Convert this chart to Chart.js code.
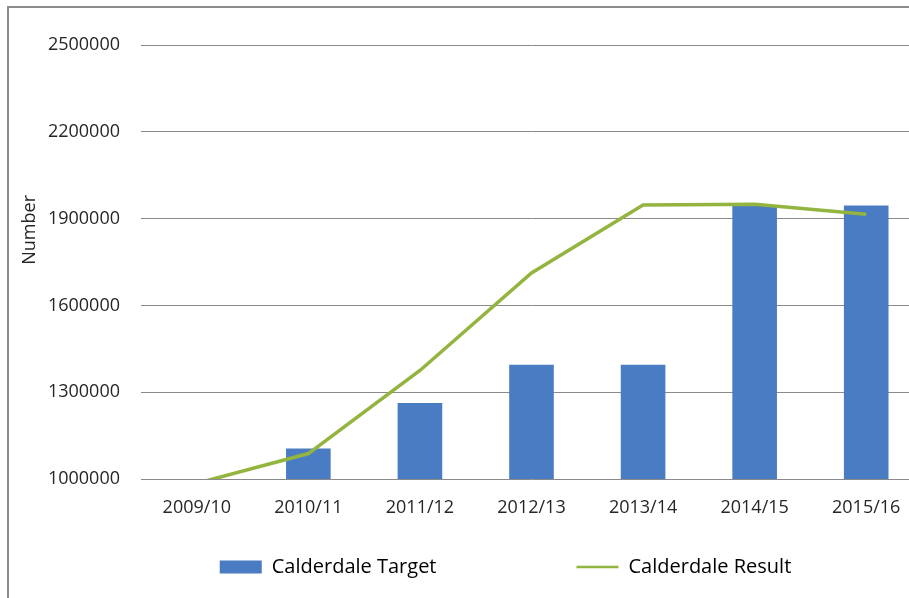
<!DOCTYPE html>
<html>
<head>
<meta charset="utf-8">
<script src="https://cdn.jsdelivr.net/npm/chart.js@4"></script>
<style>
  html, body { margin: 0; padding: 0; overflow: hidden; background: #fff; }
  #moldura { position: absolute; left: 7px; top: 6px; width: 1000px; height: 700px;
             border-left: 2px solid #8c8c8c; border-top: 2px solid #8c8c8c; }
  #caixa { position: absolute; left: 9px; top: 9px; width: 981px; height: 578px; }
</style>
</head>
<body>
<div id="moldura"></div>
<div id="caixa"><canvas id="grafico1"></canvas></div>
<script>
// dados
const anos = ["2009/10", "2010/11", "2011/12", "2012/13", "2013/14", "2014/15", "2015/16"];
const valoresMeta = [null, 1105000, 1263000, 1395000, 1395000, 1944000, 1945000];
const valoresResultado = [985000, 1088000, 1375000, 1712000, 1947000, 1950000, 1915000];
const rotulos = ["Calderdale Target", "Calderdale Result"];
const tituloY = "Number";
const eixoMin = 1000000;
const eixoMax = 2500000;
const passo = 300000;

const corMeta = "#4a7cc4";
const corResultado = "#93b43f";
const corTexto = "#262626";
const fonte = "'Open Sans', sans-serif";

// desenha o título do eixo Y um pouco acima do centro, como no original
const tituloEixo = {
  id: "tituloEixo",
  afterDraw(chart) {
    const { ctx, chartArea, scales } = chart;
    ctx.save();
    ctx.font = "18px " + fonte;
    ctx.fillStyle = corTexto;
    ctx.textAlign = "center";
    ctx.textBaseline = "middle";
    ctx.translate(scales.y.left + 9, chartArea.top + (chartArea.bottom - chartArea.top) * 0.426);
    ctx.rotate(-Math.PI / 2);
    ctx.fillText(tituloY, 0, 0);
    ctx.restore();
  },
};

const ctx = document.getElementById("grafico1").getContext("2d");

new Chart(ctx, {
  type: "bar",
  data: {
    labels: anos,
    datasets: [
      {
        label: rotulos[0],
        data: valoresMeta,
        backgroundColor: corMeta,
        barPercentage: 0.5,
        categoryPercentage: 0.8,
        yAxisID: "y",
        order: 1,
      },
      {
        type: "line",
        label: rotulos[1],
        data: valoresResultado,
        borderColor: corResultado,
        backgroundColor: corResultado,
        borderWidth: 3.5,
        pointRadius: 0,
        tension: 0,
        fill: false,
        yAxisID: "y",
        order: 0,
      },
    ],
  },
  options: {
    responsive: true,
    maintainAspectRatio: false,
    animation: false,
    layout: {
      padding: { left: 12, top: 36, right: 0, bottom: 0 },
    },
    plugins: {
      tooltip: { enabled: false },
      legend: {
        position: "bottom",
        labels: {
          usePointStyle: true,
          pointStyleWidth: 42,
          boxHeight: 13,
          padding: 44,
          color: corTexto,
          font: { family: fonte, size: 20 },
          // um item vazio no meio só para afastar as duas legendas
          generateLabels: () => [
            { text: rotulos[0], fillStyle: corMeta, strokeStyle: corMeta, lineWidth: 0, pointStyle: "rect", datasetIndex: 0 },
            { text: "", fillStyle: "rgba(0,0,0,0)", strokeStyle: "rgba(0,0,0,0)", lineWidth: 0, pointStyle: "rect" },
            { text: rotulos[1], fillStyle: corResultado, strokeStyle: corResultado, lineWidth: 2.5, pointStyle: "line", datasetIndex: 1 },
          ],
        },
      },
    },
    scales: {
      x: {
        grid: { display: false, drawTicks: false },
        border: { display: false },
        ticks: { color: corTexto, font: { family: fonte, size: 18 }, padding: 18, maxRotation: 0 },
        afterFit: (escala) => { escala.height = 34; },
      },
      y: {
        min: eixoMin,
        max: eixoMax,
        grid: { color: "#8a8a8a", lineWidth: 1, drawTicks: false },
        border: { display: false },
        ticks: {
          stepSize: passo,
          color: corTexto,
          font: { family: fonte, size: 18 },
          padding: 21,
          callback: (v) => String(v),
        },
        afterFit: (escala) => { escala.width = 120; },
      },
      // eixo vazio à direita, só para o centro da legenda ficar no lugar
      direita: {
        type: "linear",
        axis: "y",
        position: "right",
        grid: { display: false },
        border: { display: false },
        ticks: { display: false },
        afterFit: (escala) => { escala.width = 68; },
      },
    },
  },
  plugins: [tituloEixo],
});
</script>
</body>
</html>
